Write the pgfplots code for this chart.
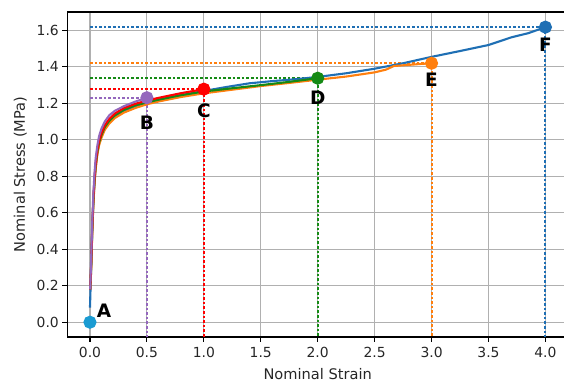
\documentclass[border=0pt]{standalone}
\usepackage{pgfplots}
\pgfplotsset{compat=1.18}
\usepackage{fontspec}
\setmainfont{DejaVu Sans}

\definecolor{cblue}{HTML}{1F6FB4}
\definecolor{corange}{HTML}{FF7F0E}
\definecolor{cgreen}{HTML}{158A15}
\definecolor{cred}{HTML}{FF0000}
\definecolor{cpurple}{HTML}{9467BD}
\definecolor{ccyan}{HTML}{1A9BD2}
\definecolor{cgrid}{HTML}{B0B0B0}

\newcommand{\tickfont}{\fontsize{13.9bp}{16bp}\selectfont}
\newcommand{\labfont}{\fontsize{14.6bp}{17bp}\selectfont}
\newcommand{\ptfont}{\fontsize{18.5bp}{22bp}\selectfont\bfseries}

\pgfplotsset{
  guide/.style={line width=2bp, dash pattern=on 2.6bp off 2bp},
  state/.style={only marks, mark=*, mark size=5.5bp},
}

\begin{document}
\begin{tikzpicture}
\begin{axis}[
  at={(0,0)}, anchor=south west,
  scale only axis,
  width=501bp, height=325bp,
  xmin=-0.2, xmax=4.2,
  ymin=-0.081, ymax=1.701,
  xtick={0,0.5,...,4.0},
  ytick={0,0.2,...,1.61},
  /pgf/number format/assume math mode=true,
  xticklabel={\pgfmathprintnumber[fixed,fixed zerofill,precision=1]{\tick}},
  yticklabel={\pgfmathprintnumber[fixed,fixed zerofill,precision=1]{\tick}},
  tick label style={font=\tickfont, text=black!85},
  xticklabel style={yshift=-2bp},
  label style={font=\labfont, text=black!85},
  xlabel style={yshift=-4bp},
  ylabel style={yshift=3bp},
  xlabel={Nominal Strain},
  ylabel={Nominal Stress (MPa)},
  tick align=outside,
  major tick length=4.9bp,
  tick style={black, line width=1.1bp},
  xtick pos=bottom, ytick pos=left,
  axis line style={black, line width=1.1bp},
  grid=major,
  grid style={cgrid, line width=1.1bp},
  every axis plot/.append style={line width=2.1bp},
]
% guides from each marked point to the axes
\addplot[cpurple, guide] coordinates {(0,1.231) (0.5,1.231) (0.5,-0.081)};
\addplot[cred, guide] coordinates {(0,1.278) (1.0,1.278) (1.0,-0.081)};
\addplot[cgreen, guide] coordinates {(0,1.338) (2.0,1.338) (2.0,-0.081)};
\addplot[corange, guide] coordinates {(0,1.420) (3.0,1.420) (3.0,-0.081)};
\addplot[cblue, guide] coordinates {(0,1.618) (4.0,1.618) (4.0,-0.081)};

% stress-strain curves, stretched to different final strains
\addplot[cblue] coordinates {
 (0,0.08) (0.01,0.29) (0.02,0.50) (0.03,0.66) (0.04,0.77) (0.05,0.85)
 (0.065,0.93) (0.08,0.98) (0.1,1.02) (0.13,1.065) (0.17,1.10) (0.22,1.13)
 (0.3,1.16) (0.4,1.185) (0.5,1.205) (0.6,1.22) (0.8,1.245) (1.0,1.268)
 (1.2,1.29) (1.4,1.31) (1.6,1.322) (1.8,1.332) (2.0,1.345) (2.25,1.365)
 (2.5,1.39) (2.75,1.42) (3.0,1.455) (3.25,1.487) (3.5,1.52) (3.62,1.545)
 (3.7,1.562) (3.85,1.585) (4.0,1.618)};
\addplot[corange] coordinates {
 (0.002,0.18) (0.01,0.28) (0.02,0.49) (0.03,0.65) (0.04,0.76) (0.05,0.84)
 (0.065,0.92) (0.08,0.97) (0.1,1.01) (0.13,1.055) (0.17,1.09) (0.22,1.12)
 (0.3,1.15) (0.4,1.175) (0.5,1.195) (0.6,1.21) (0.8,1.235) (1.0,1.255)
 (1.25,1.275) (1.5,1.295) (1.75,1.312) (2.0,1.33) (2.25,1.347) (2.5,1.37)
 (2.6,1.385) (2.67,1.405) (2.8,1.411) (2.9,1.416) (3.0,1.42)};
\addplot[cgreen] coordinates {
 (0.002,0.18) (0.01,0.30) (0.02,0.51) (0.03,0.67) (0.04,0.78) (0.05,0.86)
 (0.065,0.935) (0.08,0.985) (0.1,1.025) (0.13,1.07) (0.17,1.105) (0.22,1.135)
 (0.3,1.165) (0.4,1.19) (0.5,1.205) (0.6,1.22) (0.8,1.245) (1.0,1.265)
 (1.25,1.283) (1.5,1.30) (1.75,1.318) (2.0,1.338)};
\addplot[cred] coordinates {
 (0.002,0.18) (0.01,0.31) (0.02,0.52) (0.03,0.68) (0.04,0.79) (0.05,0.87)
 (0.065,0.945) (0.08,0.995) (0.1,1.035) (0.13,1.08) (0.17,1.115) (0.22,1.145)
 (0.3,1.175) (0.4,1.198) (0.5,1.215) (0.6,1.23) (0.8,1.256) (1.0,1.278)};
\addplot[cpurple] coordinates {
 (0.002,0.18) (0.01,0.34) (0.02,0.55) (0.03,0.71) (0.04,0.82) (0.05,0.90)
 (0.065,0.97) (0.08,1.02) (0.1,1.06) (0.13,1.10) (0.17,1.135) (0.22,1.16)
 (0.3,1.185) (0.4,1.21) (0.5,1.231)};

% marked states
\addplot[state, ccyan] coordinates {(0,0)};
\addplot[state, cpurple] coordinates {(0.5,1.231)};
\addplot[state, cred] coordinates {(1.0,1.278)};
\addplot[state, cgreen] coordinates {(2.0,1.338)};
\addplot[state, corange] coordinates {(3.0,1.420)};
\addplot[state, cblue] coordinates {(4.0,1.618)};

\node[font=\ptfont] at (axis cs:0.123,0.062) {A};
\node[font=\ptfont] at (axis cs:0.5,1.095) {B};
\node[font=\ptfont] at (axis cs:1.0,1.16) {C};
\node[font=\ptfont] at (axis cs:2.0,1.23) {D};
\node[font=\ptfont] at (axis cs:3.0,1.33) {E};
\node[font=\ptfont] at (axis cs:4.0,1.52) {F};
\end{axis}
\pgfresetboundingbox
\useasboundingbox (-67.2bp,-47bp) rectangle (496.8bp,337bp);
\end{tikzpicture}
\end{document}
